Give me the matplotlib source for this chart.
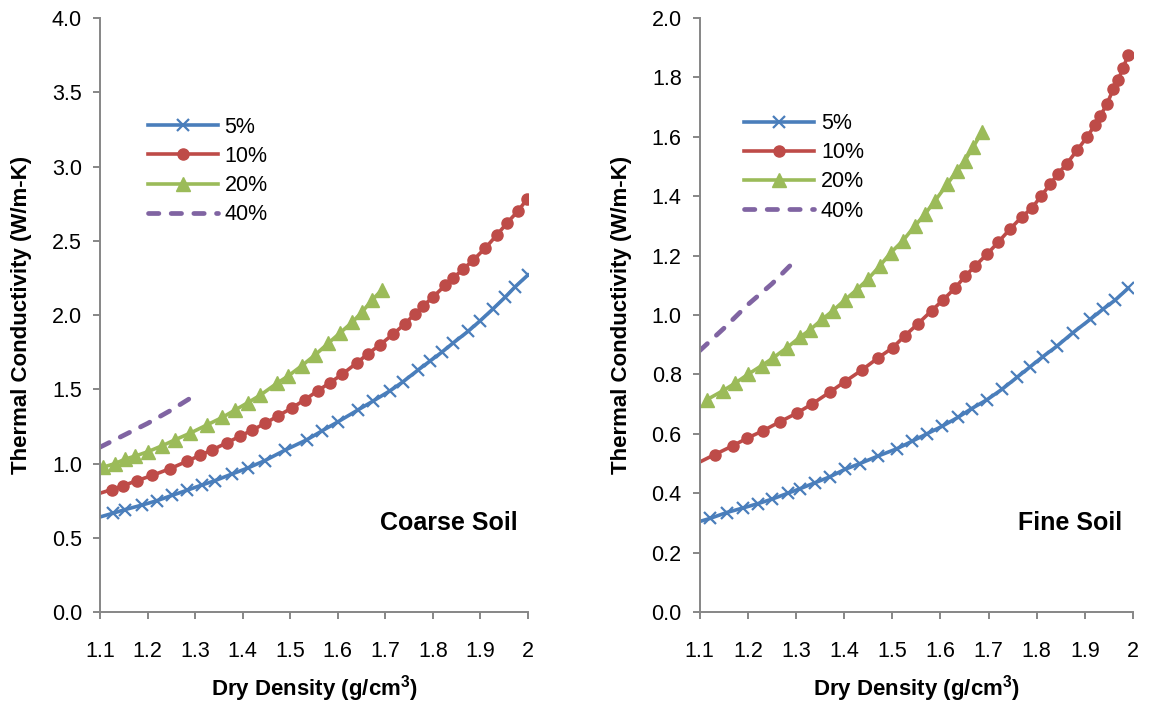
import matplotlib.pyplot as plt

plt.rcParams['font.family'] = ['Liberation Sans', 'DejaVu Sans']
plt.rcParams['mathtext.fontset'] = 'custom'
plt.rcParams['mathtext.bf'] = 'Liberation Sans:bold'
plt.rcParams['mathtext.rm'] = 'Liberation Sans'

# ---- Coarse soil data (dry density g/cm3, thermal conductivity W/m-K) ----
coarse_x_5 = [1.10, 1.127, 1.153, 1.188, 1.220, 1.251, 1.283, 1.314, 1.342, 1.378, 1.411, 1.447, 1.489, 1.535,
              1.567, 1.600, 1.642, 1.674, 1.710, 1.737, 1.769, 1.794, 1.819, 1.842, 1.874, 1.899, 1.926, 1.952,
              1.973, 2.000]
coarse_y_5 = [0.64, 0.665, 0.69, 0.72, 0.75, 0.785, 0.82, 0.855, 0.885, 0.93, 0.97, 1.02, 1.09, 1.16,
              1.22, 1.28, 1.36, 1.42, 1.49, 1.55, 1.63, 1.69, 1.75, 1.81, 1.89, 1.96, 2.04, 2.12,
              2.19, 2.27]

coarse_x_10 = [1.10, 1.125, 1.148, 1.178, 1.210, 1.247, 1.283, 1.310, 1.335, 1.367, 1.395, 1.420, 1.447, 1.474,
               1.504, 1.531, 1.558, 1.584, 1.609, 1.641, 1.664, 1.689, 1.716, 1.741, 1.763, 1.779, 1.800, 1.826,
               1.843, 1.864, 1.885, 1.910, 1.935, 1.956, 1.979, 1.998]
coarse_y_10 = [0.80, 0.825, 0.85, 0.885, 0.92, 0.965, 1.015, 1.055, 1.09, 1.14, 1.185, 1.225, 1.27, 1.32,
               1.375, 1.43, 1.49, 1.545, 1.60, 1.68, 1.74, 1.80, 1.87, 1.94, 2.01, 2.06, 2.12, 2.20,
               2.25, 2.31, 2.37, 2.45, 2.54, 2.62, 2.70, 2.78]

coarse_x_20 = [1.106, 1.132, 1.153, 1.174, 1.201, 1.231, 1.258, 1.290, 1.325, 1.357, 1.384, 1.411, 1.437, 1.472,
               1.496, 1.525, 1.552, 1.580, 1.605, 1.630, 1.651, 1.672, 1.693]
coarse_y_20 = [0.975, 1.00, 1.03, 1.05, 1.08, 1.12, 1.16, 1.205, 1.26, 1.31, 1.36, 1.41, 1.46, 1.54,
               1.59, 1.66, 1.73, 1.81, 1.88, 1.95, 2.02, 2.10, 2.17]

coarse_x_40 = [1.10, 1.15, 1.20, 1.25, 1.29]
coarse_y_40 = [1.11, 1.19, 1.27, 1.36, 1.44]

# ---- Fine soil data ----
fine_x_5 = [1.10, 1.121, 1.156, 1.189, 1.221, 1.250, 1.283, 1.308, 1.339, 1.370, 1.401, 1.433, 1.470, 1.510,
            1.541, 1.572, 1.603, 1.636, 1.665, 1.697, 1.728, 1.759, 1.786, 1.813, 1.842, 1.875, 1.911, 1.938,
            1.963, 1.990]
fine_y_5 = [0.305, 0.315, 0.335, 0.35, 0.365, 0.38, 0.40, 0.415, 0.435, 0.455, 0.48, 0.50, 0.525, 0.55,
            0.575, 0.60, 0.625, 0.655, 0.685, 0.715, 0.75, 0.79, 0.825, 0.86, 0.895, 0.94, 0.985, 1.02,
            1.05, 1.09]

fine_x_10 = [1.10, 1.131, 1.169, 1.198, 1.231, 1.266, 1.302, 1.333, 1.370, 1.401, 1.437, 1.470, 1.501, 1.526,
             1.553, 1.582, 1.605, 1.630, 1.651, 1.672, 1.697, 1.720, 1.745, 1.769, 1.790, 1.809, 1.828, 1.844,
             1.863, 1.884, 1.905, 1.921, 1.932, 1.946, 1.959, 1.969, 1.979, 1.990]
fine_y_10 = [0.505, 0.53, 0.56, 0.585, 0.61, 0.64, 0.67, 0.70, 0.74, 0.775, 0.815, 0.855, 0.89, 0.93,
             0.97, 1.015, 1.05, 1.09, 1.13, 1.165, 1.205, 1.245, 1.29, 1.33, 1.36, 1.40, 1.44, 1.475,
             1.51, 1.555, 1.60, 1.64, 1.67, 1.71, 1.76, 1.79, 1.83, 1.875]

fine_x_20 = [1.115, 1.148, 1.173, 1.200, 1.229, 1.252, 1.281, 1.308, 1.329, 1.354, 1.377, 1.401, 1.426, 1.449,
             1.474, 1.497, 1.522, 1.547, 1.568, 1.589, 1.614, 1.634, 1.651, 1.668, 1.686]
fine_y_20 = [0.715, 0.745, 0.77, 0.80, 0.83, 0.855, 0.89, 0.925, 0.95, 0.985, 1.015, 1.05, 1.085, 1.12,
             1.165, 1.21, 1.25, 1.30, 1.34, 1.385, 1.44, 1.485, 1.52, 1.565, 1.615]

fine_x_40 = [1.10, 1.15, 1.20, 1.25, 1.29]
fine_y_40 = [0.88, 0.955, 1.035, 1.105, 1.17]

labels = ['5%', '10%', '20%', '40%']
x_ticks = [1.1, 1.2, 1.3, 1.4, 1.5, 1.6, 1.7, 1.8, 1.9, 2.0]
x_tick_labels = ['1.1', '1.2', '1.3', '1.4', '1.5', '1.6', '1.7', '1.8', '1.9', '2']

blue = '#4A7EBB'
red = '#BE4B48'
green = '#9BBB59'
purple = '#8064A2'
grey = '#868686'


def draw_panel(ax, s5, s10, s20, s40, ymax, ystep, title, legend_pos):
    ax.plot(s5[0], s5[1], color=blue, lw=2.6, marker='x', ms=9, mew=1.6,
            markevery=list(range(1, len(s5[0]))), label=labels[0])
    ax.plot(s10[0], s10[1], color=red, lw=2.6, marker='o', ms=8,
            markevery=list(range(1, len(s10[0]))), label=labels[1])
    ax.plot(s20[0], s20[1], color=green, lw=2.6, marker='^', ms=10, label=labels[2])
    ax.plot(s40[0], s40[1], color=purple, lw=3.4, ls=(0, (2.2, 2.6)), dash_capstyle='round',
            label=labels[3])

    ax.set_xlim(1.1, 2.0)
    ax.set_ylim(0, ymax)
    ax.set_xticks(x_ticks)
    ax.set_xticklabels(x_tick_labels)
    n = int(round(ymax / ystep))
    yt = [i * ystep for i in range(n + 1)]
    ax.set_yticks(yt)
    ax.set_yticklabels([f'{v:.1f}' for v in yt])

    for s in ['top', 'right']:
        ax.spines[s].set_visible(False)
    for s in ['left', 'bottom']:
        ax.spines[s].set_color(grey)
        ax.spines[s].set_linewidth(1.4)
    ax.tick_params(axis='both', colors=grey, length=5, width=1.4, labelsize=15.5, labelcolor='black')
    ax.tick_params(axis='x', pad=16)
    ax.tick_params(axis='y', pad=8)

    ax.set_xlabel(r'Dry Density (g/cm$^\mathbf{3}$)', fontsize=16, fontweight='bold', labelpad=8)
    ax.set_ylabel('Thermal Conductivity (W/m-K)', fontsize=16, fontweight='bold', labelpad=14)
    ax.text(0.975, 0.15, title, transform=ax.transAxes, ha='right', va='center',
            fontsize=18, fontweight='bold')

    ax.legend(loc='upper left', bbox_to_anchor=legend_pos, frameon=False, fontsize=15.5,
              handlelength=3.25, labelspacing=0.38, handletextpad=0.33, borderpad=0)


fig = plt.figure(figsize=(11.49, 7.06), dpi=100)
ax1 = fig.add_axes([0.087, 0.1331, 0.3725, 0.8414])
ax2 = fig.add_axes([0.609, 0.1331, 0.377, 0.8414])

draw_panel(ax1, (coarse_x_5, coarse_y_5), (coarse_x_10, coarse_y_10), (coarse_x_20, coarse_y_20),
           (coarse_x_40, coarse_y_40), 4.0, 0.5, 'Coarse Soil', (0.086, 0.852))
draw_panel(ax2, (fine_x_5, fine_y_5), (fine_x_10, fine_y_10), (fine_x_20, fine_y_20),
           (fine_x_40, fine_y_40), 2.0, 0.2, 'Fine Soil', (0.077, 0.858))

fig.savefig('out.png', dpi=100)
